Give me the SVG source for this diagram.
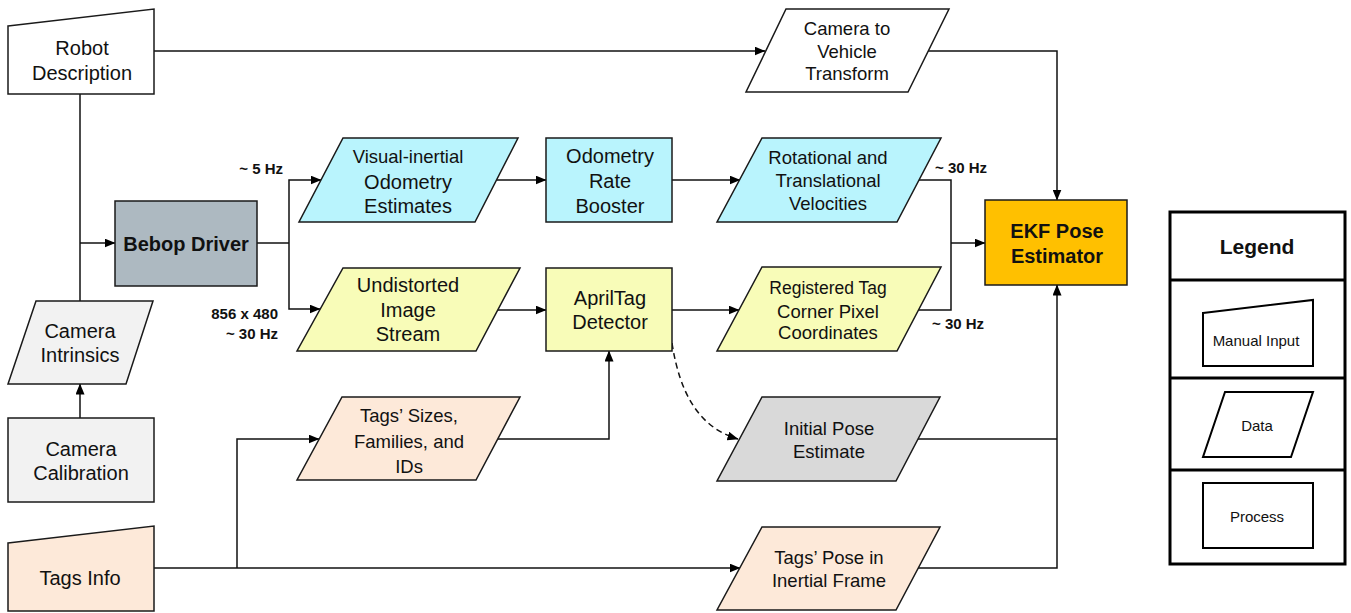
<svg xmlns="http://www.w3.org/2000/svg" width="1351" height="613" viewBox="0 0 1351 613">
<defs>
<marker id="arr" markerWidth="11" markerHeight="9" refX="10.5" refY="4.5" orient="auto" markerUnits="userSpaceOnUse">
<path d="M0,0 L11,4.5 L0,9 Z" fill="#000"/>
</marker>
</defs>
<style>
.n{stroke:#1a1a1a;stroke-width:1.5}
.t{font-family:"Liberation Sans",Arial,sans-serif;font-size:20px;fill:#111;text-anchor:middle;dominant-baseline:central}
.s{font-size:18.5px}
.b{font-weight:bold}
.hz{font-family:"Liberation Sans",Arial,sans-serif;font-size:15px;font-weight:bold;fill:#111}
.c{fill:none;stroke:#111;stroke-width:1.5}
.lg{stroke:#000;stroke-width:2;fill:#fff}
</style>
<rect width="1351" height="613" fill="#fff"/>

<g id="connectors">
<path class="c" d="M154,51 H765" marker-end="url(#arr)"/>
<path class="c" d="M928,51 H1057 V200" marker-end="url(#arr)"/>
<path class="c" d="M80,94 V301"/>
<path class="c" d="M80,243 H115" marker-end="url(#arr)"/>
<path class="c" d="M80,418 V384" marker-end="url(#arr)"/>
<path class="c" d="M257,243 H289"/>
<path class="c" d="M289,243 V180 H321" marker-end="url(#arr)"/>
<path class="c" d="M289,243 V309 H320" marker-end="url(#arr)"/>
<path class="c" d="M497,180 H546" marker-end="url(#arr)"/>
<path class="c" d="M672,180 H740" marker-end="url(#arr)"/>
<path class="c" d="M919,180 H951 V310 H918"/>
<path class="c" d="M951,243 H985" marker-end="url(#arr)"/>
<path class="c" d="M498,310 H546" marker-end="url(#arr)"/>
<path class="c" d="M672,310 H739" marker-end="url(#arr)"/>
<path class="c" d="M154,568 H740" marker-end="url(#arr)"/>
<path class="c" d="M237,568 V439 H319" marker-end="url(#arr)"/>
<path class="c" d="M498,439 H609 V351" marker-end="url(#arr)"/>
<path class="c" d="M918,439 H1057"/>
<path class="c" d="M918,568 H1057 V285" marker-end="url(#arr)"/>
<path class="c" d="M672,343 C680,395 700,428 738,439" stroke-dasharray="6,4" marker-end="url(#arr)"/>
</g>

<g id="robot-description">
<polygon class="n" points="8,26 154,9 154,94 8,94" fill="#fff"/>
<text class="t" x="82" y="48">Robot</text>
<text class="t" x="82" y="73">Description</text>
</g>

<g id="camera-intrinsics">
<polygon class="n" points="36,301 153,301 126,384 8,384" fill="#f2f2f2"/>
<text class="t" x="80" y="331">Camera</text>
<text class="t" x="80" y="355">Intrinsics</text>
</g>

<g id="camera-calibration">
<rect class="n" x="8" y="418" width="146" height="84" fill="#f2f2f2"/>
<text class="t" x="81" y="449">Camera</text>
<text class="t" x="81" y="473">Calibration</text>
</g>

<g id="tags-info">
<polygon class="n" points="8,543 154,526 154,611 8,611" fill="#fde9d9"/>
<text class="t" x="80" y="578">Tags Info</text>
</g>

<g id="bebop-driver">
<rect class="n" x="115" y="201" width="142" height="85" fill="#adb9c1"/>
<text class="t b" x="186" y="244">Bebop Driver</text>
</g>

<text class="hz" x="283" y="168" dominant-baseline="central" text-anchor="end">~ 5 Hz</text>
<text class="hz" x="278" y="313" dominant-baseline="central" text-anchor="end">856 x 480</text>
<text class="hz" x="278" y="333" dominant-baseline="central" text-anchor="end">~ 30 Hz</text>

<g id="visual-inertial">
<polygon class="n" points="343,138 518,138 475,222 299,222" fill="#b9f4fd"/>
<text class="t" x="408" y="156" style="font-size:18.5px">Visual-inertial</text>
<text class="t" x="408" y="182">Odometry</text>
<text class="t" x="408" y="206">Estimates</text>
</g>

<g id="odometry-rate-booster">
<rect class="n" x="546" y="138" width="126" height="84" fill="#b9f4fd"/>
<text class="t" x="610" y="156">Odometry</text>
<text class="t" x="610" y="181">Rate</text>
<text class="t" x="610" y="206">Booster</text>
</g>

<g id="undistorted-image">
<polygon class="n" points="343,268 520,268 476,351 297,351" fill="#f8fcb8"/>
<text class="t" x="408" y="285">Undistorted</text>
<text class="t" x="408" y="310">Image</text>
<text class="t" x="408" y="334">Stream</text>
</g>

<g id="apriltag-detector">
<rect class="n" x="546" y="268" width="126" height="83" fill="#f8fcb8"/>
<text class="t" x="610" y="298">AprilTag</text>
<text class="t" x="610" y="322">Detector</text>
</g>

<g id="camera-to-vehicle">
<polygon class="n" points="786,9 949,9 908,92 746,92" fill="#fff"/>
<text class="t s" x="847" y="28">Camera to</text>
<text class="t s" x="847" y="51">Vehicle</text>
<text class="t s" x="847" y="73">Transform</text>
</g>

<g id="velocities">
<polygon class="n" points="762,138 941,138 897,222 717,222" fill="#b9f4fd"/>
<text class="t s" x="828" y="157">Rotational and</text>
<text class="t s" x="828" y="180">Translational</text>
<text class="t s" x="828" y="203">Velocities</text>
</g>

<g id="registered-corners">
<polygon class="n" points="762,267 941,267 897,351 717,351" fill="#f8fcb8"/>
<text class="t s" x="828" y="288" style="font-size:17.5px">Registered  Tag</text>
<text class="t s" x="828" y="311">Corner Pixel</text>
<text class="t s" x="828" y="332">Coordinates</text>
</g>

<text class="hz" x="935" y="167" dominant-baseline="central">~ 30 Hz</text>
<text class="hz" x="932" y="323" dominant-baseline="central">~ 30 Hz</text>

<g id="ekf-pose-estimator">
<rect class="n" x="985" y="200" width="142" height="85" fill="#ffc000"/>
<text class="t b" x="1057" y="231">EKF Pose</text>
<text class="t b" x="1057" y="256">Estimator</text>
</g>

<g id="tags-sizes">
<polygon class="n" points="342,397 520,397 476,480 297,480" fill="#fde9d9"/>
<text class="t s" x="409" y="415">Tags’ Sizes,</text>
<text class="t s" x="409" y="441">Families, and</text>
<text class="t s" x="409" y="466">IDs</text>
</g>

<g id="initial-pose">
<polygon class="n" points="762,397 940,397 896,481 717,481" fill="#d9d9d9"/>
<text class="t s" x="829" y="428">Initial Pose</text>
<text class="t s" x="829" y="451">Estimate</text>
</g>

<g id="tags-pose">
<polygon class="n" points="762,527 940,527 896,610 717,610" fill="#fde9d9"/>
<text class="t s" x="829" y="557">Tags’ Pose in</text>
<text class="t s" x="829" y="580">Inertial Frame</text>
</g>

<g id="legend">
<rect x="1170" y="212" width="175" height="352" fill="#fff" stroke="#000" stroke-width="3"/>
<path d="M1170,280 H1345 M1170,378 H1345 M1169,470 H1345" stroke="#000" stroke-width="3"/>
<text class="t b" x="1257" y="246" style="font-size:21px">Legend</text>
<polygon class="lg" points="1203,313 1313,300 1313,366 1203,366"/>
<text class="t" x="1256" y="340" style="font-size:15px">Manual Input</text>
<polygon class="lg" points="1225,392 1313,392 1291,457 1203,457"/>
<text class="t" x="1257" y="425" style="font-size:15px">Data</text>
<rect class="lg" x="1203" y="483" width="110" height="65"/>
<text class="t" x="1257" y="516" style="font-size:15px">Process</text>
</g>
</svg>
